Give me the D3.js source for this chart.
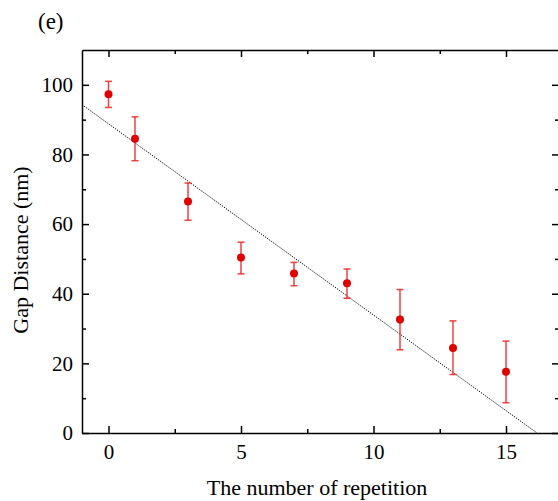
<!DOCTYPE html>
<html>
<head>
<meta charset="utf-8">
<script src="https://cdn.jsdelivr.net/npm/d3@7"></script>
<style>
  body { margin: 0; background: #fff; }
  svg { display: block; }
  .axis path, .axis line { stroke: #000; stroke-width: 1.5px; }
</style>
</head>
<body>
<div id="chart"></div>
<script>
// data
const repetitions = [0, 1, 3, 5, 7, 9, 11, 13, 15];
const gapDistance = [97.3, 84.5, 66.5, 50.4, 45.8, 43.0, 32.6, 24.4, 17.6];
const errUpper    = [101.0, 90.8, 71.8, 54.8, 49.0, 47.1, 41.2, 32.2, 26.4];
const errLower    = [93.5, 78.2, 61.1, 45.7, 42.3, 38.7, 23.9, 16.8, 8.7];

// linear fit (dotted line) end points
const fitX = [-1, 16.17];
const fitY = [94.3, 0];

const xMajorTicks = [0, 5, 10, 15];
const xMinorTicks = [2.5, 7.5, 12.5];
const yMajorTicks = [0, 20, 40, 60, 80, 100];
const yMinorTicks = [10, 30, 50, 70, 90];

const serif = "Liberation Serif";

const data = repetitions.map((r, i) => ({
    x: r, y: gapDistance[i], hi: errUpper[i], lo: errLower[i]
}));

const W = 558, H = 501;
const margin = { top: 50, right: -1, bottom: 68, left: 82 };
const width = W - margin.left - margin.right,
    height = H - margin.top - margin.bottom;

const svg = d3.select("#chart").append("svg")
    .attr("width", W)
    .attr("height", H);

const g = svg.append("g")
    .attr("transform", "translate(" + margin.left + "," + margin.top + ")");

const x = d3.scaleLinear().domain([-1, 17]).range([0, width]);
const y = d3.scaleLinear().domain([0, 110]).range([height, 0]);

// clip for the fit line
g.append("clipPath").attr("id", "clip")
    .append("rect").attr("width", width).attr("height", height);

// axes - ticks point inward
function addAxis(axisFn, scale, major, minor, cls, transform, showLabels) {
    const ax = g.append("g").attr("class", "axis " + cls).attr("transform", transform);
    ax.call(axisFn(scale).tickValues(major).tickSize(-7).tickSizeOuter(0)
        .tickPadding(showLabels ? 16 : 0)
        .tickFormat(showLabels ? d3.format("d") : ""));
    ax.attr("font-family", serif).attr("font-size", 21);
    const minorG = g.append("g").attr("class", "axis").attr("transform", transform);
    minorG.call(axisFn(scale).tickValues(minor).tickSize(-4).tickSizeOuter(0).tickFormat(""));
    minorG.select(".domain").remove();
    return ax;
}

const xBottom = addAxis(d3.axisBottom, x, xMajorTicks, xMinorTicks, "x-axis", "translate(0," + height + ")", true);
addAxis(d3.axisTop, x, xMajorTicks, xMinorTicks, "x-top", "translate(0,0)", false);
const yLeft = addAxis(d3.axisLeft, y, yMajorTicks, yMinorTicks, "y-axis", "translate(0,0)", true);
addAxis(d3.axisRight, y, yMajorTicks, yMinorTicks, "y-right", "translate(" + width + ",0)", false);

xBottom.selectAll("text").attr("dy", "0.71em").attr("y", 11).attr("fill", "#000");
yLeft.selectAll("text").attr("x", -9).attr("fill", "#000");

// fit line
g.append("line")
    .attr("clip-path", "url(#clip)")
    .attr("x1", x(fitX[0])).attr("y1", y(fitY[0]))
    .attr("x2", x(fitX[1])).attr("y2", y(fitY[1]))
    .attr("stroke", "#000")
    .attr("stroke-width", 1)
    .attr("stroke-dasharray", "1.2,1.2");

// error bars
const eb = g.selectAll(".err").data(data).enter().append("g")
    .attr("class", "err")
    .attr("stroke", "#ee2020")
    .attr("stroke-opacity", 0.85)
    .attr("stroke-width", 1.5);
eb.append("line")
    .attr("x1", d => x(d.x)).attr("x2", d => x(d.x))
    .attr("y1", d => y(d.hi)).attr("y2", d => y(d.lo));
eb.append("line")
    .attr("x1", d => x(d.x) - 3.5).attr("x2", d => x(d.x) + 3.5)
    .attr("y1", d => y(d.hi)).attr("y2", d => y(d.hi));
eb.append("line")
    .attr("x1", d => x(d.x) - 3.5).attr("x2", d => x(d.x) + 3.5)
    .attr("y1", d => y(d.lo)).attr("y2", d => y(d.lo));

// points
g.selectAll(".dot").data(data).enter().append("circle")
    .attr("class", "dot")
    .attr("cx", d => x(d.x))
    .attr("cy", d => y(d.y))
    .attr("r", 4)
    .attr("fill", "#e00000");

// axis titles
svg.append("text")
    .attr("x", 317).attr("y", 495)
    .attr("text-anchor", "middle")
    .attr("font-family", serif)
    .attr("font-size", 22)
    .text("The number of repetition");

svg.append("text")
    .attr("transform", "translate(28,250) rotate(-90)")
    .attr("text-anchor", "middle")
    .attr("font-family", serif)
    .attr("font-size", 22)
    .text("Gap Distance (nm)");

svg.append("text")
    .attr("x", 38).attr("y", 29)
    .attr("font-family", serif)
    .attr("font-size", 23)
    .text("(e)");
</script>
</body>
</html>
